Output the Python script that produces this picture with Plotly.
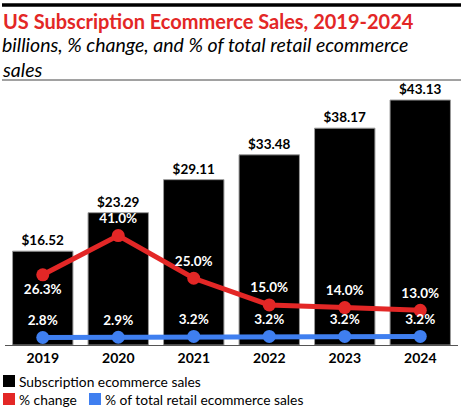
import plotly.graph_objects as go

years = ["2019", "2020", "2021", "2022", "2023", "2024"]
sales = [16.52, 23.29, 29.11, 33.48, 38.17, 43.13]
pct_change = [26.3, 41.0, 25.0, 15.0, 14.0, 13.0]
pct_total = [2.8, 2.9, 3.2, 3.2, 3.2, 3.2]
series_names = ["Subscription ecommerce sales", "% change",
                "% of total retail ecommerce sales"]

RED = "#e32726"
BLUE = "#3f7ff0"
FONT = "Lato"
W, H = 466, 407


def px(x):
    return x / W


def py(y):
    return 1 - y / H


fig = go.Figure()

fig.add_trace(go.Bar(
    x=years, y=sales, name=series_names[0],
    marker=dict(color="black", line=dict(color="#9a9a9a", width=1)),
    text=[f"${v:.2f}" for v in sales], textposition="outside",
    textfont=dict(family=FONT, size=13.5, color="black", weight="bold"),
    cliponaxis=False,
))

change_pos = ["bottom center"] + ["top center"] * 5
fig.add_trace(go.Scatter(
    x=years, y=pct_change, yaxis="y2", mode="lines+markers+text",
    name=series_names[1],
    line=dict(color=RED, width=5), marker=dict(color=RED, size=13),
    text=[f"{v:.1f}%" for v in pct_change], textposition=change_pos,
    textfont=dict(family=FONT, size=13.5, color="white", weight="bold"),
    cliponaxis=False,
))

fig.add_trace(go.Scatter(
    x=years, y=pct_total, yaxis="y2", mode="lines+markers+text",
    name=series_names[2],
    line=dict(color=BLUE, width=5), marker=dict(color=BLUE, size=13),
    text=[f"{v:.1f}%" for v in pct_total], textposition="top center",
    textfont=dict(family=FONT, size=13.5, color="white", weight="bold"),
    cliponaxis=False,
))

fig.update_layout(
    width=W, height=H,
    margin=dict(l=0, r=0, t=0, b=0),
    plot_bgcolor="white", paper_bgcolor="white",
    font=dict(family=FONT, color="black"),
    bargap=0.2,
    showlegend=False,
    xaxis=dict(
        domain=[px(5), px(458)],
        showline=True, linecolor="#555555", linewidth=1,
        tickfont=dict(family=FONT, size=14, color="black", weight="bold"),
        ticks="", showgrid=False,
    ),
    yaxis=dict(domain=[py(345), py(82)], range=[0, 46.3],
               visible=False, showgrid=False),
    yaxis2=dict(range=[0, 98.5], overlaying="y", visible=False, showgrid=False),
)

# header rules
fig.add_shape(type="line", xref="paper", yref="paper", x0=px(2), x1=px(461),
              y0=py(5), y1=py(5), line=dict(color="black", width=3.5))
fig.add_shape(type="line", xref="paper", yref="paper", x0=px(2), x1=px(461),
              y0=py(80), y1=py(80), line=dict(color="#444444", width=1))

fig.add_annotation(
    text="US Subscription Ecommerce Sales, 2019-2024",
    xref="paper", yref="paper", x=px(1), y=py(21), xanchor="left", yanchor="middle",
    showarrow=False, font=dict(family=FONT, size=20, color=RED, weight="bold"),
)
for txt, yc in [("billions, % change, and % of total retail ecommerce", 44),
                ("sales", 69)]:
    fig.add_annotation(
        text=f"<i>{txt}</i>",
        xref="paper", yref="paper", x=px(1), y=py(yc),
        xanchor="left", yanchor="middle", showarrow=False, borderpad=0,
        font=dict(family=FONT, size=19.5, color="black"),
    )

# legend: colour key squares with labels
legend_items = [
    (series_names[0], "black", 3, 381),
    (series_names[1], RED, 3, 399),
    (series_names[2], BLUE, 89, 399),
]
for name, col, x0, yc in legend_items:
    fig.add_shape(type="rect", xref="paper", yref="paper",
                  x0=px(x0), x1=px(x0 + 12), y0=py(yc + 6), y1=py(yc - 6),
                  fillcolor=col, line=dict(width=0))
    fig.add_annotation(
        text=name, xref="paper", yref="paper", x=px(x0 + 15), y=py(yc),
        xanchor="left", yanchor="middle", showarrow=False, borderpad=0,
        font=dict(family=FONT, size=13.8, color="black"),
    )

# the page's default body margin would shift the figure by 8px
fig.write_html("out.html", config={"displayModeBar": False},
               post_script="document.body.style.margin='0px';")
